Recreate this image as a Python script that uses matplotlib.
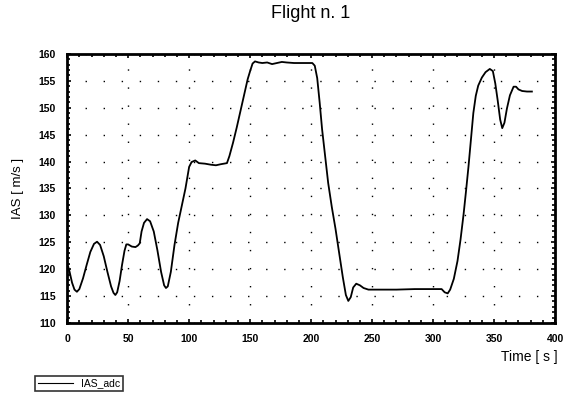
import matplotlib
matplotlib.use("Agg")
import matplotlib.pyplot as plt
from matplotlib.ticker import MultipleLocator

plt.rcParams['font.family'] = ['Liberation Sans', 'DejaVu Sans']

title = "Flight n. 1"
x_label = "Time [ s ]"
y_label = "IAS [ m/s ]"
series_name = "IAS_adc"

time_s = [0, 0.8, 2, 4, 6, 8, 10, 13, 16, 19, 22, 24.5, 27, 30, 33, 36, 38, 39.5,
          41, 43, 45, 47, 48.5, 50, 53, 56, 58, 59.5, 61, 63, 65.5, 68, 71, 74, 77,
          79.5, 81, 82.5, 85, 88, 91, 94, 97, 100, 102, 105, 108, 113, 118, 122,
          126, 131, 133, 136, 139, 142, 145, 148, 150, 152, 154, 157, 160, 164,
          168, 172, 176, 180, 186, 194, 201, 203, 205, 207, 209, 211.5, 214, 217,
          220, 223, 226, 228.5, 230.5, 232.5, 234.5, 237, 240, 243, 247, 255, 270,
          285, 300, 307, 309.5, 312, 314, 317, 320, 322.5, 325, 327, 329, 331, 333,
          335, 337, 340, 343, 346.5, 349, 351, 353, 355, 356.7, 358.5, 360.5, 363,
          366, 368, 370, 373, 377, 381]
ias = [119.5, 120.5, 119.5, 117.5, 116.2, 115.8, 116.3, 118.3, 120.8, 123.2, 124.7,
       125.1, 124.5, 122.4, 119.5, 116.8, 115.6, 115.2, 115.7, 117.8, 120.8, 123.4,
       124.6, 124.6, 124.2, 124.1, 124.4, 124.8, 127.0, 128.6, 129.3, 128.9, 127.0,
       123.5, 119.5, 117.0, 116.5, 116.8, 119.5, 124.5, 128.6, 131.8, 135.0, 139.0,
       139.9, 140.2, 139.7, 139.6, 139.4, 139.3, 139.5, 139.7, 141.0, 143.5, 146.3,
       149.3, 152.3, 155.3, 156.8, 158.2, 158.6, 158.4, 158.3, 158.4, 158.1, 158.3,
       158.5, 158.4, 158.3, 158.3, 158.3, 157.8, 155.5, 151.0, 146.0, 141.0, 136.0,
       131.5, 127.5, 123.0, 118.5, 115.2, 114.1, 114.8, 116.6, 117.3, 117.0, 116.5,
       116.2, 116.2, 116.2, 116.3, 116.3, 116.3, 115.7, 115.5, 116.2, 118.2, 121.5,
       125.5, 130.2, 134.5, 139.0, 144.0, 149.0, 152.2, 154.1, 155.6, 156.6, 157.2,
       156.8, 154.5, 151.3, 147.8, 146.2, 147.2, 149.8, 152.3, 153.9, 153.9, 153.4,
       153.1, 153.0, 153.0]

x_ticks = [0, 50, 100, 150, 200, 250, 300, 350, 400]
y_ticks = [110, 115, 120, 125, 130, 135, 140, 145, 150, 155, 160]

fig = plt.figure(figsize=(5.74, 4.05), dpi=100)
ax = fig.add_axes([0.117, 0.2025, 0.850, 0.6645])

line, = ax.plot(time_s, ias, color='black', lw=1.3, label=series_name)

ax.set_xlim(0, 400)
ax.set_ylim(110, 160)
ax.set_xticks(x_ticks)
ax.set_yticks(y_ticks)
ax.xaxis.set_minor_locator(MultipleLocator(10))
ax.yaxis.set_minor_locator(MultipleLocator(1))
ax.tick_params(which='both', direction='in', top=True, right=True, width=1.2)
ax.tick_params(which='major', length=3, labelsize=7.5, pad=8)
ax.tick_params(which='minor', length=2)
for lab in ax.get_xticklabels() + ax.get_yticklabels():
    lab.set_fontweight('bold')

for sp in ax.spines.values():
    sp.set_linewidth(2)

ax.grid(True, which='major', color='black', lw=1.0, linestyle=(0, (1, 12)))

ax.set_title(title, fontsize=13, pad=26)
ax.set_ylabel(y_label, fontsize=9.5)
ax.yaxis.set_label_coords(-0.088, 0.5)
ax.text(1.006, -0.126, x_label, transform=ax.transAxes, ha='right', va='center',
        fontsize=10)

leg = ax.legend(loc='upper left', bbox_to_anchor=(-0.066, -0.197), frameon=True,
                fancybox=False, edgecolor='black', fontsize=7.5, handlelength=3.4,
                borderpad=0.25, handletextpad=0.8, borderaxespad=0)
leg.get_frame().set_linewidth(1.2)
for l in leg.get_lines():
    l.set_linewidth(0.8)

fig.savefig("out.png", dpi=100)
